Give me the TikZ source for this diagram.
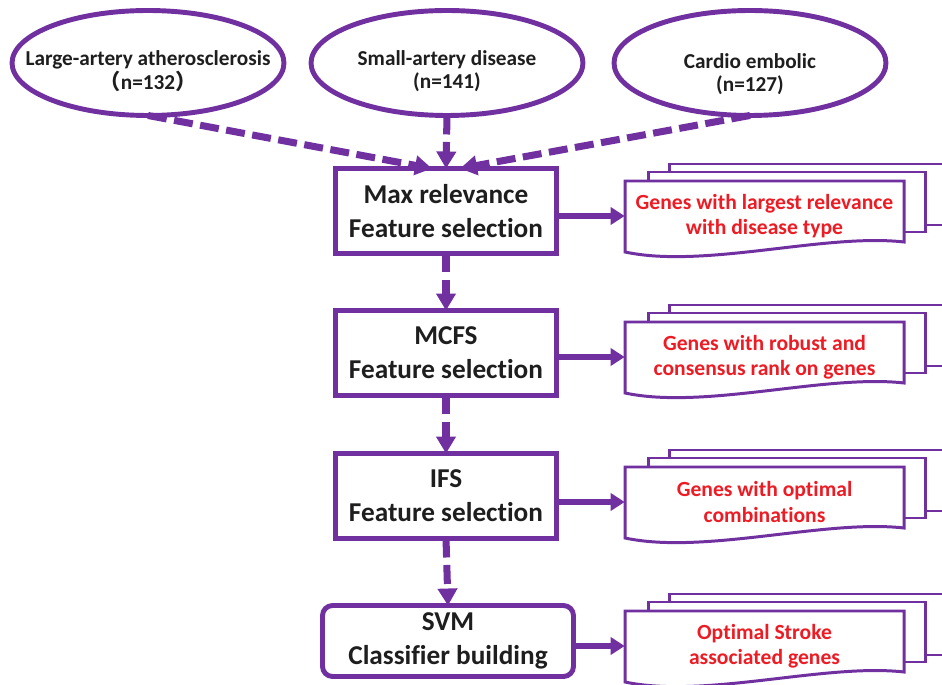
\documentclass[tikz,border=0pt]{standalone}
\usepackage{fontspec}
\setmainfont{Carlito}[Ligatures=CommonOff]
\newfontfamily\cjk{Noto Sans CJK SC}
\usetikzlibrary{arrows.meta,shapes.geometric}
\definecolor{flowpurple}{RGB}{112,48,160}
\definecolor{genered}{RGB}{237,28,36}
\definecolor{inkgray}{RGB}{30,30,30}
\tikzset{
  cohort/.style={ellipse,draw=flowpurple,line width=2.8pt,fill=white,minimum width=5.44cm,minimum height=2.1cm,outer sep=0pt},
  cohorttext/.style={align=center,text=inkgray,font=\bfseries\fontsize{12.1}{13.4}\selectfont},
  stepbox/.style={draw=flowpurple,line width=2.8pt,fill=white,minimum width=4.42cm,minimum height=1.7cm,outer sep=0pt,align=center,text=inkgray,font=\bfseries\fontsize{15.5}{19.4}\selectfont},
  docpage/.style={draw=flowpurple,line width=1.7pt,fill=white},
  doctext/.style={minimum width=5.58cm,align=center,text=genered,font=\bfseries\fontsize{12.3}{14.4}\selectfont},
  dashflow/.style={draw=flowpurple,line width=4pt,dash pattern=on 0.38cm off 0.15cm,-{Triangle[length=0.34cm,width=0.38cm]}},
  geneflow/.style={draw=flowpurple,line width=3.4pt,-{Triangle[length=0.28cm,width=0.34cm]}}
}
\begin{document}
\begin{tikzpicture}[x=0.02cm,y=-0.02cm]
\clip (0,0) rectangle (942,685);
% stroke subtypes
\node[cohort] (ell1) at (148,63) {};
\node[cohort] (ell2) at (447,63) {};
\node[cohort] (ell3) at (750,63) {};
\node[cohorttext] (lab1) at (148,71) {Large-artery atherosclerosis\\{\cjk （}n=132{\cjk ）}};
\node[cohorttext] (lab2) at (447,71) {Small-artery disease\\(n=141)};
\node[cohorttext] (lab3) at (750,74) {Cardio embolic\\(n=127)};
% selection steps
\node[stepbox] (box1) at (446,211) {Max relevance\\Feature selection};
\node[stepbox] (box2) at (446,353) {MCFS\\Feature selection};
\node[stepbox] (box3) at (446,496) {IFS\\Feature selection};
\node[stepbox,rounded corners=0.2cm,minimum width=5.02cm,minimum height=1.42cm] (box4) at (448,641) {SVM\\Classifier building};
% gene lists
\foreach \t/\txt [count=\i] in {181/{Genes with largest relevance\\with disease type},322/{Genes with robust and\\consensus rank on genes},467/{Genes with optimal\\combinations},611/{Optimal Stroke\\associated genes}}{
  \begin{scope}[shift={(625,\t)}]
    \draw[docpage] (44,-17) rectangle (360,44);
    \draw[docpage] (23,-9) rectangle (300,51);
    \draw[docpage] (0,0) -- (279,0) -- (279,61) .. controls (200,52) and (80,88) .. (0,71) -- cycle;
    \node[doctext] (doc\i) at (139.5,35) {\txt};
  \end{scope}
}
\draw[dashflow] (ell1.south) -- ([xshift=-0.28cm]box1.north);
\draw[dashflow] (ell2.south) -- (box1.north);
\draw[dashflow] (ell3.south) -- ([xshift=0.28cm]box1.north);
\draw[dashflow] (box1.south) -- (box2.north);
\draw[dashflow] (box2.south) -- (box3.north);
\draw[dashflow] (box3.south) -- (box4.north);
\foreach \i in {1,...,4}
  \draw[geneflow] (box\i.east |- doc\i.west) -- (doc\i.west);
\end{tikzpicture}
\end{document}
